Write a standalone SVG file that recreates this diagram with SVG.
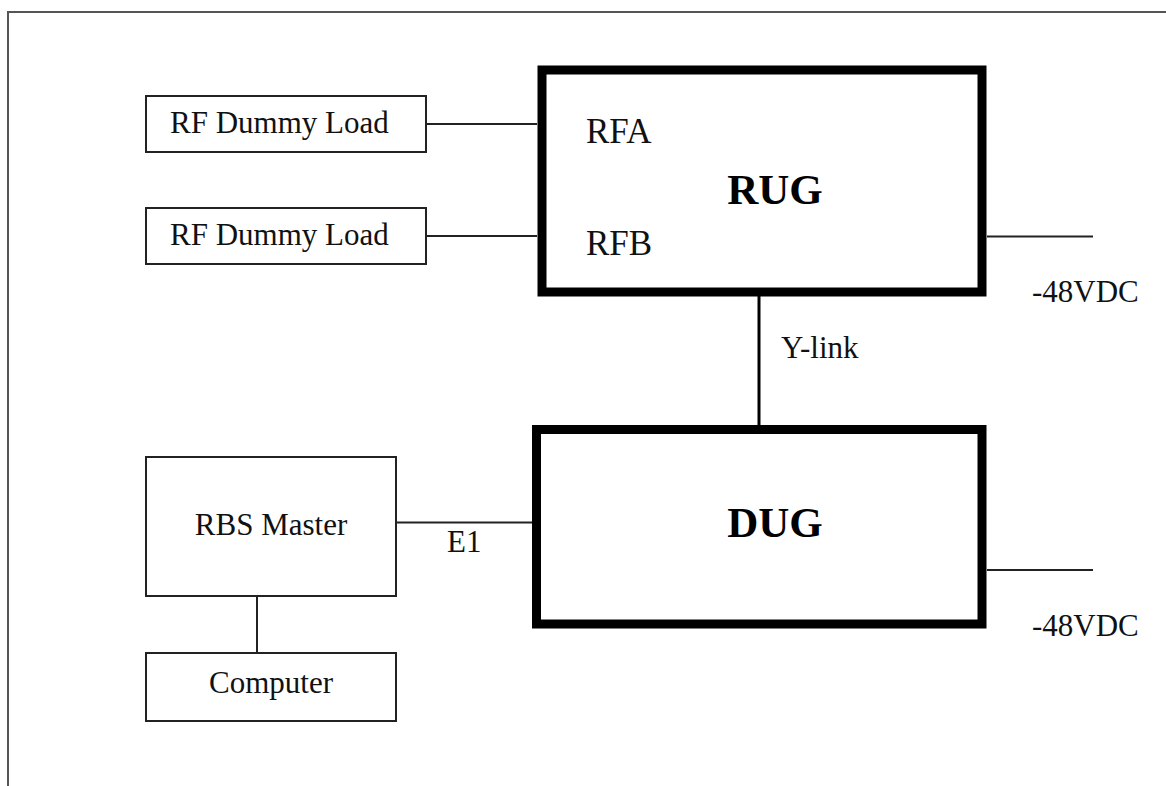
<svg xmlns="http://www.w3.org/2000/svg" width="1166" height="786" viewBox="0 0 1166 786">
<style>
.frame{fill:none;stroke:#555;stroke-width:2}
.box{fill:#fff;stroke:#222;stroke-width:2}
.big{fill:#fff;stroke:#000;stroke-width:9}
.wire{fill:none;stroke:#222;stroke-width:2}
.t{font-family:"Liberation Serif","Times New Roman",serif;font-size:31px;fill:#111}
.tp{font-family:"Liberation Serif","Times New Roman",serif;font-size:35px;fill:#111}
.tb{font-family:"Liberation Serif","Times New Roman",serif;font-size:43px;font-weight:bold;fill:#000}
</style>
<rect width="1166" height="786" fill="#fff"/>
<path class="frame" d="M8,786 V12 H1166"/>
<g id="connectors">
<line class="wire" x1="426" y1="124" x2="537" y2="124"/>
<line class="wire" x1="426" y1="236" x2="537" y2="236"/>
<line x1="759" y1="296" x2="759" y2="425" stroke="#000" stroke-width="3"/>
<line class="wire" x1="396" y1="522.5" x2="532" y2="522.5"/>
<line class="wire" x1="257" y1="596" x2="257" y2="653"/>
<line class="wire" x1="987" y1="236.5" x2="1093" y2="236.5"/>
<line class="wire" x1="987" y1="570" x2="1093" y2="570"/>
<text class="t" x="781" y="358">Y-link</text>
<text class="t" x="447" y="552">E1</text>
<text class="t" x="1032" y="302">-48VDC</text>
<text class="t" x="1032" y="636">-48VDC</text>
</g>
<g id="rfload1">
<rect class="box" x="146" y="96" width="280" height="56"/>
<text class="t" x="170" y="133">RF Dummy Load</text>
</g>
<g id="rfload2">
<rect class="box" x="146" y="208" width="280" height="56"/>
<text class="t" x="170" y="245">RF Dummy Load</text>
</g>
<g id="rug">
<rect class="big" x="542" y="70" width="440" height="222"/>
<text class="tp" x="586" y="143">RFA</text>
<text class="tp" x="586" y="255">RFB</text>
<text class="tb" x="775" y="204" text-anchor="middle">RUG</text>
</g>
<g id="dug">
<rect class="big" x="536.5" y="429.5" width="445.5" height="194.5"/>
<text class="tb" x="775" y="537" text-anchor="middle">DUG</text>
</g>
<g id="rbsmaster">
<rect class="box" x="146" y="457" width="250" height="139"/>
<text class="t" x="271" y="535" text-anchor="middle">RBS Master</text>
</g>
<g id="computer">
<rect class="box" x="146" y="653" width="250" height="68"/>
<text class="t" x="271" y="693" text-anchor="middle">Computer</text>
</g>
</svg>
